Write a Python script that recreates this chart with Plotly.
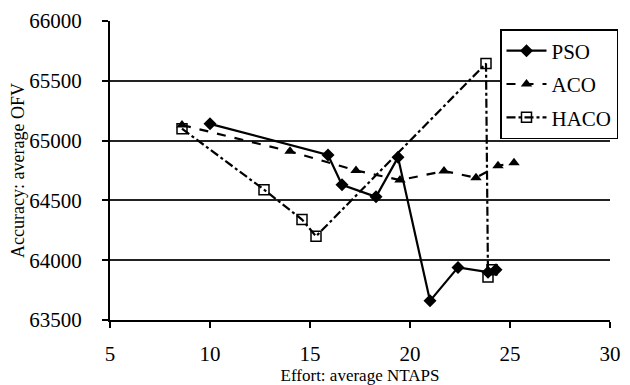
import plotly.graph_objects as go

pso_x = [10.0, 15.9, 16.6, 18.3, 19.4, 21.0, 22.4, 23.9, 24.3]
pso_y = [65140, 64880, 64630, 64530, 64860, 63660, 63940, 63900, 63920]

aco_x = [8.6, 14.0, 17.3, 19.5, 21.7, 23.3, 24.4, 25.2]
aco_y = [65130, 64910, 64750, 64670, 64745, 64690, 64790, 64815]

haco_x = [8.6, 12.7, 14.6, 15.3, 23.8, 23.9, 24.1]
haco_y = [65100, 64590, 64340, 64200, 65645, 63860, 63920]

x_ticks = [5, 10, 15, 20, 25, 30]
y_ticks = [63500, 64000, 64500, 65000, 65500, 66000]

FONT = "Liberation Serif"

fig = go.Figure()
fig.add_trace(go.Scatter(
    x=pso_x, y=pso_y, name="PSO", mode="lines+markers", legendgroup="a",
    line=dict(color="black", width=2.2, dash="solid"),
    marker=dict(symbol="diamond", size=10, color="black"),
))
fig.add_trace(go.Scatter(
    x=aco_x, y=aco_y, name="ACO", mode="lines+markers", legendgroup="b",
    line=dict(color="black", width=2.2, dash="dash"),
    marker=dict(symbol="triangle-up", size=10, color="black"),
))
fig.add_trace(go.Scatter(
    x=haco_x, y=haco_y, name="HACO", mode="lines+markers", legendgroup="c",
    line=dict(color="black", width=2.2, dash="dashdot"),
    marker=dict(symbol="square-open", size=10, color="black", line=dict(width=1.5)),
))

# page body has an 8px default margin, so the figure is sized to fit the window
fig.update_layout(
    width=622, height=377,
    margin=dict(l=102, r=14, t=13, b=65),
    paper_bgcolor="white", plot_bgcolor="white",
    font=dict(family=FONT, color="black", size=20),
    legend=dict(
        x=0.78, xanchor="left", y=0.973, yanchor="top",
        bordercolor="black", borderwidth=1.5, bgcolor="white",
        font=dict(family=FONT, size=21, color="black"),
        tracegroupgap=3, traceorder="grouped",
        itemwidth=40,
    ),
    xaxis=dict(
        range=[5, 30], tickvals=x_ticks, ticktext=[str(v) for v in x_ticks],
        showgrid=False, zeroline=False, automargin=False,
        showline=True, linecolor="black", linewidth=2,
        ticks="outside", ticklen=6, tickwidth=2, tickcolor="black",
        ticklabelstandoff=8,
        tickfont=dict(family=FONT, size=21),
        title=dict(text="Effort: average NTAPS", font=dict(family=FONT, size=17), standoff=6),
    ),
    yaxis=dict(
        range=[63500, 66000], tickvals=y_ticks, ticktext=[str(v) for v in y_ticks],
        showgrid=True, gridcolor="#222", gridwidth=1.5, zeroline=False, automargin=False,
        showline=True, linecolor="black", linewidth=2,
        ticks="outside", ticklen=6, tickwidth=2, tickcolor="black",
        ticklabelstandoff=16,
        tickfont=dict(family=FONT, size=21),
        title=dict(text="Accuracy: average OFV", font=dict(family=FONT, size=18), standoff=0),
    ),
)

fig.write_html("out.html")
